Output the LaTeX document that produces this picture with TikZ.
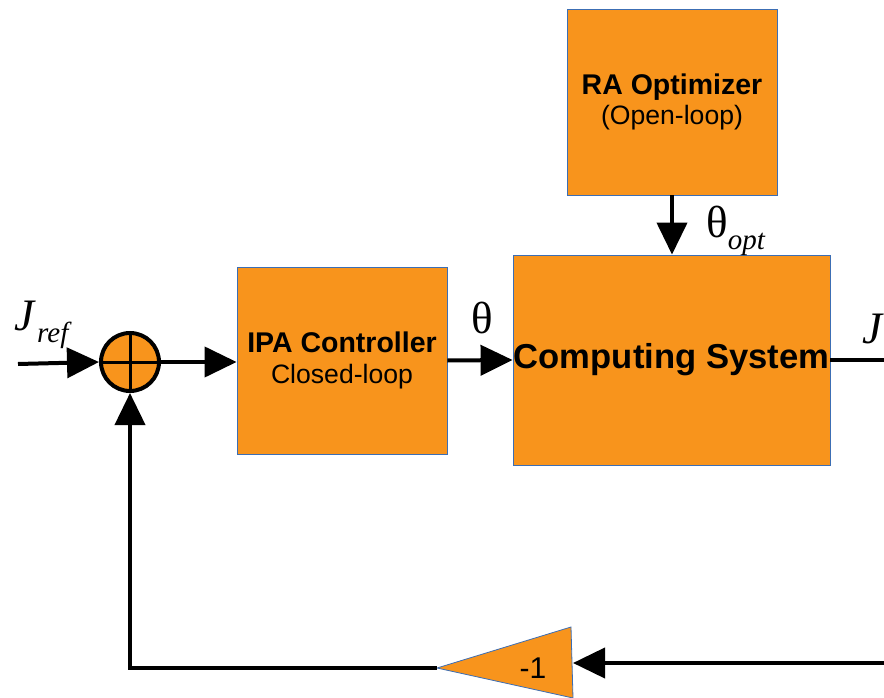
\documentclass[tikz,border=0pt]{standalone}
\usepackage{fontspec}
\setmainfont{Liberation Sans}
\newfontfamily\symfont{Liberation Serif}
\usetikzlibrary{arrows.meta}

\definecolor{blockfill}{RGB}{248,148,28}
\definecolor{blockline}{RGB}{60,110,180}

\begin{document}
\begin{tikzpicture}[
        x=1pt, y=-1pt,
        blockbox/.style={rectangle, draw=blockline, line width=0.8pt, fill=blockfill, inner sep=0pt, align=center},
        sumnode/.style={circle, draw=black, line width=4pt, fill=blockfill, minimum size=58pt, inner sep=0pt},
        signal/.style={line width=4pt, -{Triangle[length=32pt,width=30pt]}},
        wire/.style={line width=4pt},
        varlabel/.style={font=\symfont\fontsize{45}{45}\selectfont, inner sep=0pt}
        ]
        \useasboundingbox (0,0) rectangle (884,698);

        % blocks
        \node [blockbox, minimum width=210pt, minimum height=186pt, font=\fontsize{28.5}{30}\selectfont] (ra) at (672,102)
            {\textbf{RA Optimizer}\\{\fontsize{26.6}{30}\selectfont (Open-loop)}};
        \node [blockbox, minimum width=317pt, minimum height=210pt, font=\fontsize{34.6}{36}\selectfont\bfseries] (comp) at (671.5,360)
            {Computing System};
        \node [blockbox, minimum width=210pt, minimum height=187pt, font=\fontsize{28.5}{31}\selectfont] (ipa) at (342,360.5)
            {\textbf{IPA Controller}\\{\fontsize{26.6}{31}\selectfont Closed-loop}};
        \node [sumnode] (sum) at (130,362) {};
        \draw [line width=3pt] (sum.north) -- (sum.south);
        \draw [line width=3pt] (sum.west) -- (sum.east);

        % gain block (-1)
        \coordinate (gaintip) at (437,668);
        \coordinate (gainin) at (573,663);
        \filldraw [fill=blockfill, draw=blockline, line width=0.8pt] (gaintip) -- (571,627) -- (573,698) -- cycle;
        \node [font=\fontsize{30}{30}\selectfont] (gain) at (533,668) {-1};

        % signals
        \coordinate (in) at (18,364);
        \coordinate (out) at (884,360);
        \coordinate (fbin) at (884,663);
        \draw [signal] (in) -- (sum.west);
        \draw [signal] (sum.east) -- (sum.east -| ipa.west);
        \draw [signal] (ipa.east) -- (comp.west);
        \draw [signal] (ra.south) -- (ra.south |- comp.north);
        \draw [wire] (comp.east) -- (out);
        \draw [signal] (fbin) -- (gainin);
        \draw [signal] (gaintip) -| (sum.south);

        % labels
        \node [varlabel, anchor=base west] (jref) at (14,330) {\itshape J\hspace{3pt}\raisebox{-12pt}{\fontsize{29}{29}\selectfont ref}};
        \node [varlabel, anchor=base] (theta) at (482,333) {θ};
        \node [varlabel, anchor=base west] (thetaopt) at (706,237) {θ\raisebox{-12pt}{\fontsize{29}{29}\selectfont\itshape opt}};
        \node [varlabel, anchor=base west] (jout) at (862,343) {\itshape J};
    \end{tikzpicture}
\end{document}
